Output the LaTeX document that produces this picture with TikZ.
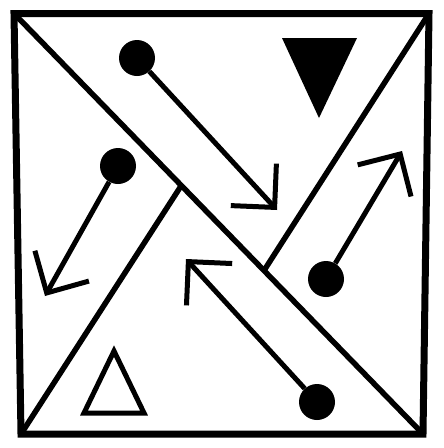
\documentclass[tikz,border=0pt]{standalone}
\usetikzlibrary{arrows.meta}

\begin{document}
\begin{tikzpicture}[x=1pt,y=-1pt,
    dot/.style={circle,fill=black,inner sep=0pt,minimum size=36pt},
    arr/.style={line width=5pt,-{Straight Barb[length=31pt,width=62pt]}}]
    \useasboundingbox (0,0) rectangle (444,448);
    % Frame and diagonals
    \coordinate (tl) at (14,13.5);
    \coordinate (tr) at (429,13.5);
    \coordinate (br) at (423,434);
    \coordinate (bl) at (21,434);
    \coordinate (jU) at (265,269);
    \coordinate (jL) at (181,186);
    \draw[line width=7pt,line join=miter] (tl) -- (tr) -- (br) -- (bl) -- cycle;
    \draw[line width=5.5pt] (tl) -- (br);
    \draw[line width=5.5pt] (tr) -- (jU);
    \draw[line width=5.5pt] (bl) -- (jL);
    % Triangles
    \fill (282,38) -- (357,38) -- (319,118) -- cycle;
    \draw[line width=5pt,line join=miter] (84,413) -- (144,413) -- (114,351) -- cycle;
    % Dots and arrows
    \node[dot] (d1) at (137,58) {};
    \node[dot] (d2) at (118,166) {};
    \node[dot] (d3) at (326,279) {};
    \node[dot] (d4) at (317,402) {};
    \coordinate (t1) at (277,210);
    \coordinate (t2) at (45,296);
    \coordinate (t3) at (402,151);
    \coordinate (t4) at (186,259);
    \draw[arr] (d1) -- (t1);
    \draw[arr] (d2) -- (t2);
    \draw[arr] (d3) -- (t3);
    \draw[arr] (d4) -- (t4);
\end{tikzpicture}
\end{document}
